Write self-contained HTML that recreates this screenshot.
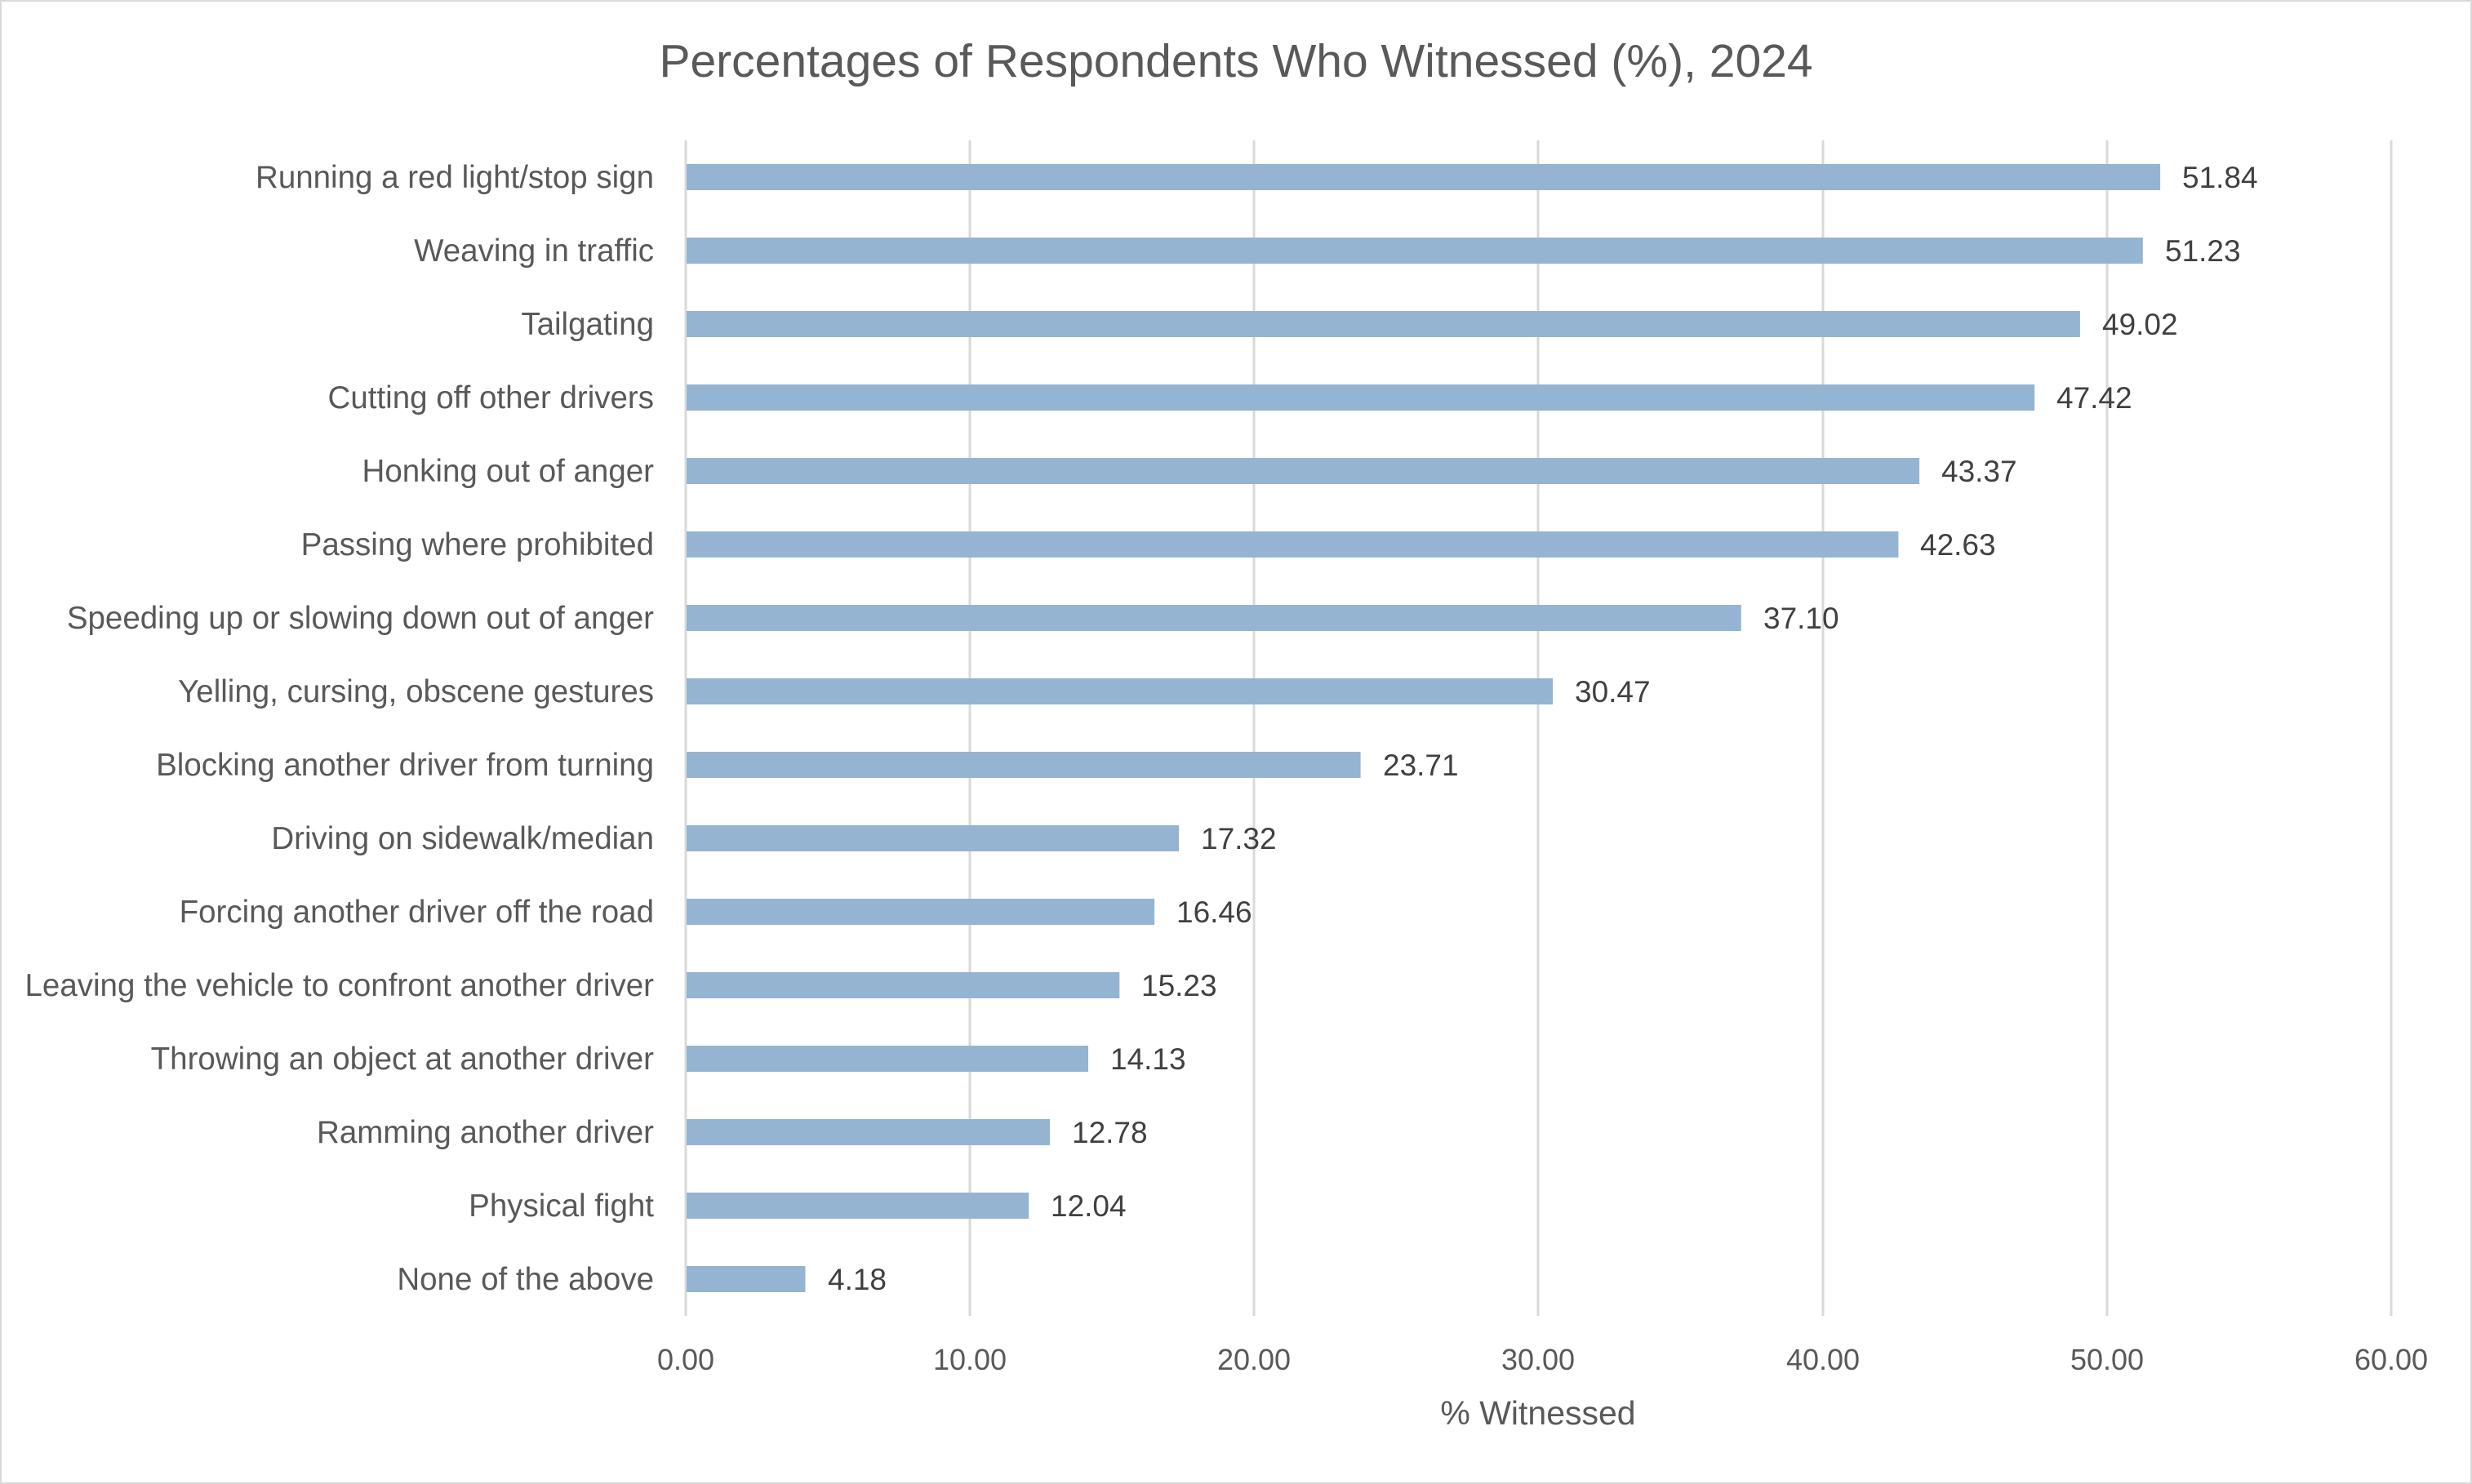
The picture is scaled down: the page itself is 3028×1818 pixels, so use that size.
<!DOCTYPE html>
<html><head><meta charset="utf-8"><style>
html,body{margin:0;padding:0;background:#fff}
svg{display:block}
text{font-family:"Liberation Sans",sans-serif;fill:#595959}
.l{font-size:38.5px;text-anchor:end}
.v{font-size:37px;fill:#404040}
</style></head><body>
<svg width="3028" height="1818" viewBox="0 0 3028 1818">
<rect x="1" y="1" width="3026" height="1816" fill="#fff" stroke="#d9d9d9" stroke-width="2"/>
<text x="1514" y="94" font-size="57" text-anchor="middle">Percentages of Respondents Who Witnessed (%), 2024</text>
<g stroke="#d9d9d9" stroke-width="3">
<line x1="1188" y1="172" x2="1188" y2="1612"/>
<line x1="1536" y1="172" x2="1536" y2="1612"/>
<line x1="1884" y1="172" x2="1884" y2="1612"/>
<line x1="2233" y1="172" x2="2233" y2="1612"/>
<line x1="2581" y1="172" x2="2581" y2="1612"/>
<line x1="2929" y1="172" x2="2929" y2="1612"/>
<line x1="840" y1="172" x2="840" y2="1612"/>
</g>
<g fill="#95b4d2">
<rect x="841" y="201" width="1805.1" height="32"/>
<rect x="841" y="291" width="1783.8" height="32"/>
<rect x="841" y="381" width="1706.9" height="32"/>
<rect x="841" y="471" width="1651.2" height="32"/>
<rect x="841" y="561" width="1510.1" height="32"/>
<rect x="841" y="651" width="1484.4" height="32"/>
<rect x="841" y="741" width="1291.8" height="32"/>
<rect x="841" y="831" width="1061.0" height="32"/>
<rect x="841" y="921" width="825.6" height="32"/>
<rect x="841" y="1011" width="603.1" height="32"/>
<rect x="841" y="1101" width="573.1" height="32"/>
<rect x="841" y="1191" width="530.3" height="32"/>
<rect x="841" y="1281" width="492.0" height="32"/>
<rect x="841" y="1371" width="445.0" height="32"/>
<rect x="841" y="1461" width="419.2" height="32"/>
<rect x="841" y="1551" width="145.5" height="32"/>
</g>
<text class="l" x="801" y="230">Running a red light/stop sign</text>
<text class="l" x="801" y="320">Weaving in traffic</text>
<text class="l" x="801" y="410">Tailgating</text>
<text class="l" x="801" y="500">Cutting off other drivers</text>
<text class="l" x="801" y="590">Honking out of anger</text>
<text class="l" x="801" y="680">Passing where prohibited</text>
<text class="l" x="801" y="770">Speeding up or slowing down out of anger</text>
<text class="l" x="801" y="860">Yelling, cursing, obscene gestures</text>
<text class="l" x="801" y="950">Blocking another driver from turning</text>
<text class="l" x="801" y="1040">Driving on sidewalk/median</text>
<text class="l" x="801" y="1130">Forcing another driver off the road</text>
<text class="l" x="801" y="1220">Leaving the vehicle to confront another driver</text>
<text class="l" x="801" y="1310">Throwing an object at another driver</text>
<text class="l" x="801" y="1400">Ramming another driver</text>
<text class="l" x="801" y="1490">Physical fight</text>
<text class="l" x="801" y="1580">None of the above</text>
<text class="v" x="2673" y="230">51.84</text>
<text class="v" x="2652" y="320">51.23</text>
<text class="v" x="2575" y="410">49.02</text>
<text class="v" x="2519" y="500">47.42</text>
<text class="v" x="2378" y="590">43.37</text>
<text class="v" x="2352" y="680">42.63</text>
<text class="v" x="2160" y="770">37.10</text>
<text class="v" x="1929" y="860">30.47</text>
<text class="v" x="1694" y="950">23.71</text>
<text class="v" x="1471" y="1040">17.32</text>
<text class="v" x="1441" y="1130">16.46</text>
<text class="v" x="1398" y="1220">15.23</text>
<text class="v" x="1360" y="1310">14.13</text>
<text class="v" x="1313" y="1400">12.78</text>
<text class="v" x="1287" y="1490">12.04</text>
<text class="v" x="1014" y="1580">4.18</text>
<g font-size="36" text-anchor="middle">
<text x="840" y="1678">0.00</text>
<text x="1188" y="1678">10.00</text>
<text x="1536" y="1678">20.00</text>
<text x="1884" y="1678">30.00</text>
<text x="2233" y="1678">40.00</text>
<text x="2581" y="1678">50.00</text>
<text x="2929" y="1678">60.00</text>
</g>
<text x="1884" y="1745" font-size="41" text-anchor="middle">% Witnessed</text>
</svg>
</body></html>
